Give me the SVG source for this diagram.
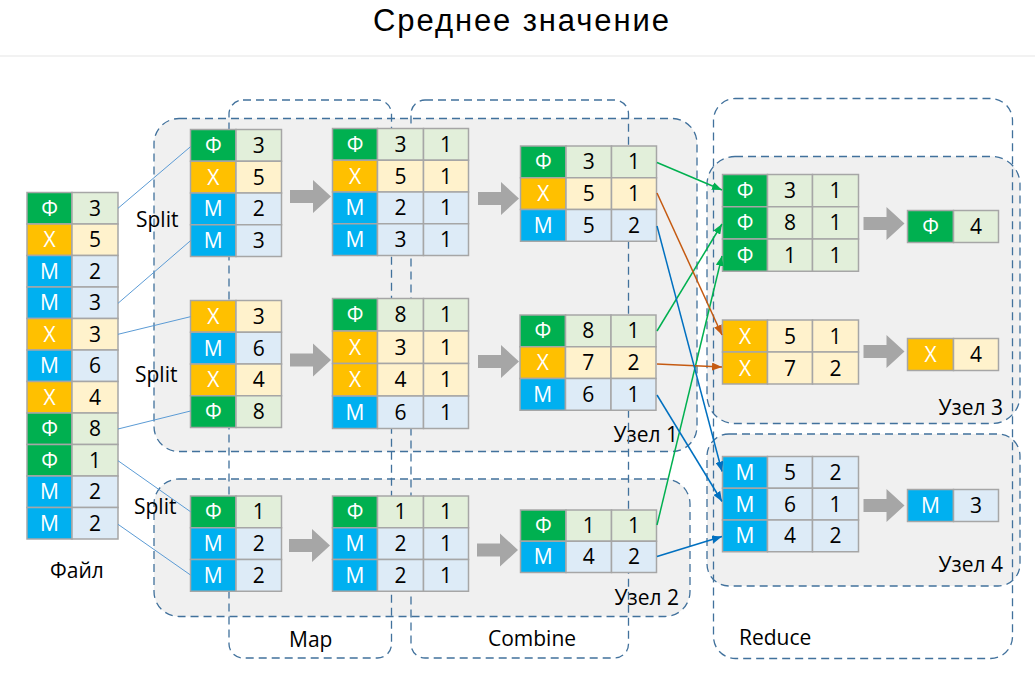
<svg xmlns="http://www.w3.org/2000/svg" xmlns:xlink="http://www.w3.org/1999/xlink" width="1035" height="685" viewBox="0 0 1035 685">
<style>
.c{stroke:#A6A6A6;stroke-width:1.5}
.g{fill:#00B050}.gl{fill:#E2EFDA}.y{fill:#FFC000}.yl{fill:#FFF2CC}.b{fill:#00B0F0}.bl{fill:#DDEBF7}
.t{font-family:"Open Sans","Liberation Sans",sans-serif;font-size:21px;text-anchor:middle}
.w{fill:#fff}.k{fill:#000}
.lbl{font-family:"Open Sans","Liberation Sans",sans-serif;font-size:21px;fill:#000}
.node{fill:#F0F0F0;stroke:#41719C;stroke-width:1.3;stroke-dasharray:8 5}
.col{fill:none;stroke:#41719C;stroke-width:1.3;stroke-dasharray:8 5}
.split{stroke:#5B9BD5;stroke-width:1;fill:none}
.cg{stroke:#00B050;stroke-width:1.5;fill:none}
.co{stroke:#C55A11;stroke-width:1.5;fill:none}
.cb{stroke:#0070C0;stroke-width:1.5;fill:none}
.arr{fill:#A6A6A6}
</style>
<defs>
<path id="ga" class="arr" d="M0,-6.5 H23 V-16.5 L41,0 L23,16.5 V6.5 H0 Z"/>
<marker id="mg" markerUnits="userSpaceOnUse" markerWidth="10" markerHeight="8" refX="10" refY="4" orient="auto"><path d="M0,0 L10,4 L0,8 z" fill="#00B050"/></marker>
<marker id="mo" markerUnits="userSpaceOnUse" markerWidth="10" markerHeight="8" refX="10" refY="4" orient="auto"><path d="M0,0 L10,4 L0,8 z" fill="#C55A11"/></marker>
<marker id="mb" markerUnits="userSpaceOnUse" markerWidth="10" markerHeight="8" refX="10" refY="4" orient="auto"><path d="M0,0 L10,4 L0,8 z" fill="#0070C0"/></marker>
</defs>
<rect width="1035" height="685" fill="#fff"/>
<text x="521" y="31" font-family="Liberation Sans, Arial, sans-serif" font-size="31" text-anchor="middle" textLength="296" lengthAdjust="spacing" fill="#000">Среднее значение</text>
<line x1="0" y1="56" x2="1035" y2="56" stroke="#F2F2F2" stroke-width="2"/>

<g id="node1"><rect class="node" x="154" y="118.5" width="543" height="333" rx="25"/><text class="lbl" x="678" y="442" text-anchor="end">Узел 1</text></g>
<g id="node2"><rect class="node" x="154" y="479" width="536" height="137.5" rx="25"/><text class="lbl" x="679" y="605" text-anchor="end">Узел 2</text></g>
<g id="map-stage"><rect class="col" x="229" y="100" width="162.5" height="558" rx="14"/><text class="lbl" x="289" y="647">Map</text></g>
<g id="combine-stage"><rect class="col" x="411" y="100" width="217.5" height="558" rx="14"/><text class="lbl" x="532" y="646" text-anchor="middle">Combine</text></g>
<g id="node3"><rect class="node" x="707" y="156.5" width="313" height="267" rx="28"/><text class="lbl" x="1003" y="415" text-anchor="end">Узел 3</text></g>
<g id="node4"><rect class="node" x="707" y="434" width="313" height="152" rx="22"/><text class="lbl" x="1003" y="572" text-anchor="end">Узел 4</text></g>
<g id="reduce-stage"><rect class="col" x="713.5" y="98.5" width="299" height="560" rx="22"/><text class="lbl" x="739" y="645">Reduce</text></g>

<g id="labels">
<text class="lbl" x="136" y="227">Split</text>
<text class="lbl" x="135" y="382">Split</text>
<text class="lbl" x="134" y="514">Split</text>
<text class="lbl" x="77" y="578" text-anchor="middle">Файл</text>
</g>

<g id="file" transform="translate(27,192.5)">
<rect class="c g" x="0" y="0" width="45" height="31.5"/><rect class="c gl" x="45" y="0" width="46" height="31.5"/>
<rect class="c y" x="0" y="31.5" width="45" height="31.5"/><rect class="c yl" x="45" y="31.5" width="46" height="31.5"/>
<rect class="c b" x="0" y="63" width="45" height="31.5"/><rect class="c bl" x="45" y="63" width="46" height="31.5"/>
<rect class="c b" x="0" y="94.5" width="45" height="31.5"/><rect class="c bl" x="45" y="94.5" width="46" height="31.5"/>
<rect class="c y" x="0" y="126" width="45" height="31.5"/><rect class="c yl" x="45" y="126" width="46" height="31.5"/>
<rect class="c b" x="0" y="157.5" width="45" height="31.5"/><rect class="c bl" x="45" y="157.5" width="46" height="31.5"/>
<rect class="c y" x="0" y="189" width="45" height="31.5"/><rect class="c yl" x="45" y="189" width="46" height="31.5"/>
<rect class="c g" x="0" y="220.5" width="45" height="31.5"/><rect class="c gl" x="45" y="220.5" width="46" height="31.5"/>
<rect class="c g" x="0" y="252" width="45" height="31.5"/><rect class="c gl" x="45" y="252" width="46" height="31.5"/>
<rect class="c b" x="0" y="283.5" width="45" height="31.5"/><rect class="c bl" x="45" y="283.5" width="46" height="31.5"/>
<rect class="c b" x="0" y="315" width="45" height="31.5"/><rect class="c bl" x="45" y="315" width="46" height="31.5"/>
<g class="t w"><text x="22.5" y="23.25">Ф</text><text x="22.5" y="54.75">Х</text><text x="22.5" y="86.25">М</text><text x="22.5" y="117.75">М</text><text x="22.5" y="149.25">Х</text><text x="22.5" y="180.75">М</text><text x="22.5" y="212.25">Х</text><text x="22.5" y="243.75">Ф</text><text x="22.5" y="275.25">Ф</text><text x="22.5" y="306.75">М</text><text x="22.5" y="338.25">М</text></g>
<g class="t k"><text x="68" y="23.25">3</text><text x="68" y="54.75">5</text><text x="68" y="86.25">2</text><text x="68" y="117.75">3</text><text x="68" y="149.25">3</text><text x="68" y="180.75">6</text><text x="68" y="212.25">4</text><text x="68" y="243.75">8</text><text x="68" y="275.25">1</text><text x="68" y="306.75">2</text><text x="68" y="338.25">2</text></g>
</g>

<g id="split1" transform="translate(190.5,129.5)">
<rect class="c g" x="0" y="0" width="45.5" height="31.75"/><rect class="c gl" x="45.5" y="0" width="45.5" height="31.75"/>
<rect class="c y" x="0" y="31.75" width="45.5" height="31.75"/><rect class="c yl" x="45.5" y="31.75" width="45.5" height="31.75"/>
<rect class="c b" x="0" y="63.5" width="45.5" height="31.75"/><rect class="c bl" x="45.5" y="63.5" width="45.5" height="31.75"/>
<rect class="c b" x="0" y="95.25" width="45.5" height="31.75"/><rect class="c bl" x="45.5" y="95.25" width="45.5" height="31.75"/>
<g class="t w"><text x="22.75" y="23.4">Ф</text><text x="22.75" y="55.1">Х</text><text x="22.75" y="86.9">М</text><text x="22.75" y="118.6">М</text></g>
<g class="t k"><text x="68.25" y="23.4">3</text><text x="68.25" y="55.1">5</text><text x="68.25" y="86.9">2</text><text x="68.25" y="118.6">3</text></g>
</g>
<g id="split2" transform="translate(190.5,300.5)">
<rect class="c y" x="0" y="0" width="45.5" height="31.75"/><rect class="c yl" x="45.5" y="0" width="45.5" height="31.75"/>
<rect class="c b" x="0" y="31.75" width="45.5" height="31.75"/><rect class="c bl" x="45.5" y="31.75" width="45.5" height="31.75"/>
<rect class="c y" x="0" y="63.5" width="45.5" height="31.75"/><rect class="c yl" x="45.5" y="63.5" width="45.5" height="31.75"/>
<rect class="c g" x="0" y="95.25" width="45.5" height="31.75"/><rect class="c gl" x="45.5" y="95.25" width="45.5" height="31.75"/>
<g class="t w"><text x="22.75" y="23.4">Х</text><text x="22.75" y="55.1">М</text><text x="22.75" y="86.9">Х</text><text x="22.75" y="118.6">Ф</text></g>
<g class="t k"><text x="68.25" y="23.4">3</text><text x="68.25" y="55.1">6</text><text x="68.25" y="86.9">4</text><text x="68.25" y="118.6">8</text></g>
</g>
<g id="split3" transform="translate(190.5,496)">
<rect class="c g" x="0" y="0" width="45.5" height="31.75"/><rect class="c gl" x="45.5" y="0" width="45.5" height="31.75"/>
<rect class="c b" x="0" y="31.75" width="45.5" height="31.75"/><rect class="c bl" x="45.5" y="31.75" width="45.5" height="31.75"/>
<rect class="c b" x="0" y="63.5" width="45.5" height="31.75"/><rect class="c bl" x="45.5" y="63.5" width="45.5" height="31.75"/>
<g class="t w"><text x="22.75" y="23.4">Ф</text><text x="22.75" y="55.1">М</text><text x="22.75" y="86.9">М</text></g>
<g class="t k"><text x="68.25" y="23.4">1</text><text x="68.25" y="55.1">2</text><text x="68.25" y="86.9">2</text></g>
</g>

<g id="map1" transform="translate(332.5,128.5)">
<rect class="c g" x="0" y="0" width="45" height="31.75"/><rect class="c gl" x="45" y="0" width="46" height="31.75"/><rect class="c gl" x="91" y="0" width="45" height="31.75"/>
<rect class="c y" x="0" y="31.75" width="45" height="31.75"/><rect class="c yl" x="45" y="31.75" width="46" height="31.75"/><rect class="c yl" x="91" y="31.75" width="45" height="31.75"/>
<rect class="c b" x="0" y="63.5" width="45" height="31.75"/><rect class="c bl" x="45" y="63.5" width="46" height="31.75"/><rect class="c bl" x="91" y="63.5" width="45" height="31.75"/>
<rect class="c b" x="0" y="95.25" width="45" height="31.75"/><rect class="c bl" x="45" y="95.25" width="46" height="31.75"/><rect class="c bl" x="91" y="95.25" width="45" height="31.75"/>
<g class="t w"><text x="22.5" y="23.4">Ф</text><text x="22.5" y="55.1">Х</text><text x="22.5" y="86.9">М</text><text x="22.5" y="118.6">М</text></g>
<g class="t k"><text x="68" y="23.4">3</text><text x="68" y="55.1">5</text><text x="68" y="86.9">2</text><text x="68" y="118.6">3</text>
<text x="113.5" y="23.4">1</text><text x="113.5" y="55.1">1</text><text x="113.5" y="86.9">1</text><text x="113.5" y="118.6">1</text></g>
</g>
<g id="map2" transform="translate(332.5,298.5)">
<rect class="c g" x="0" y="0" width="45" height="32.5"/><rect class="c gl" x="45" y="0" width="46" height="32.5"/><rect class="c gl" x="91" y="0" width="45" height="32.5"/>
<rect class="c y" x="0" y="32.5" width="45" height="32.5"/><rect class="c yl" x="45" y="32.5" width="46" height="32.5"/><rect class="c yl" x="91" y="32.5" width="45" height="32.5"/>
<rect class="c y" x="0" y="65" width="45" height="32.5"/><rect class="c yl" x="45" y="65" width="46" height="32.5"/><rect class="c yl" x="91" y="65" width="45" height="32.5"/>
<rect class="c b" x="0" y="97.5" width="45" height="32.5"/><rect class="c bl" x="45" y="97.5" width="46" height="32.5"/><rect class="c bl" x="91" y="97.5" width="45" height="32.5"/>
<g class="t w"><text x="22.5" y="23.75">Ф</text><text x="22.5" y="56.25">Х</text><text x="22.5" y="88.75">Х</text><text x="22.5" y="121.25">М</text></g>
<g class="t k"><text x="68" y="23.75">8</text><text x="68" y="56.25">3</text><text x="68" y="88.75">4</text><text x="68" y="121.25">6</text>
<text x="113.5" y="23.75">1</text><text x="113.5" y="56.25">1</text><text x="113.5" y="88.75">1</text><text x="113.5" y="121.25">1</text></g>
</g>
<g id="map3" transform="translate(332.5,496)">
<rect class="c g" x="0" y="0" width="45" height="31.75"/><rect class="c gl" x="45" y="0" width="46" height="31.75"/><rect class="c gl" x="91" y="0" width="45" height="31.75"/>
<rect class="c b" x="0" y="31.75" width="45" height="31.75"/><rect class="c bl" x="45" y="31.75" width="46" height="31.75"/><rect class="c bl" x="91" y="31.75" width="45" height="31.75"/>
<rect class="c b" x="0" y="63.5" width="45" height="31.75"/><rect class="c bl" x="45" y="63.5" width="46" height="31.75"/><rect class="c bl" x="91" y="63.5" width="45" height="31.75"/>
<g class="t w"><text x="22.5" y="23.4">Ф</text><text x="22.5" y="55.1">М</text><text x="22.5" y="86.9">М</text></g>
<g class="t k"><text x="68" y="23.4">1</text><text x="68" y="55.1">2</text><text x="68" y="86.9">2</text>
<text x="113.5" y="23.4">1</text><text x="113.5" y="55.1">1</text><text x="113.5" y="86.9">1</text></g>
</g>

<g id="combine1" transform="translate(520.5,146)">
<rect class="c g" x="0" y="0" width="45.5" height="31.75"/><rect class="c gl" x="45.5" y="0" width="45.5" height="31.75"/><rect class="c gl" x="91" y="0" width="45" height="31.75"/>
<rect class="c y" x="0" y="31.75" width="45.5" height="31.75"/><rect class="c yl" x="45.5" y="31.75" width="45.5" height="31.75"/><rect class="c yl" x="91" y="31.75" width="45" height="31.75"/>
<rect class="c b" x="0" y="63.5" width="45.5" height="31.75"/><rect class="c bl" x="45.5" y="63.5" width="45.5" height="31.75"/><rect class="c bl" x="91" y="63.5" width="45" height="31.75"/>
<g class="t w"><text x="22.75" y="23.4">Ф</text><text x="22.75" y="55.1">Х</text><text x="22.75" y="86.9">М</text></g>
<g class="t k"><text x="68.25" y="23.4">3</text><text x="68.25" y="55.1">5</text><text x="68.25" y="86.9">5</text>
<text x="113.5" y="23.4">1</text><text x="113.5" y="55.1">1</text><text x="113.5" y="86.9">2</text></g>
</g>
<g id="combine2" transform="translate(520,315)">
<rect class="c g" x="0" y="0" width="45.5" height="31.75"/><rect class="c gl" x="45.5" y="0" width="45.5" height="31.75"/><rect class="c gl" x="91" y="0" width="45" height="31.75"/>
<rect class="c y" x="0" y="31.75" width="45.5" height="31.75"/><rect class="c yl" x="45.5" y="31.75" width="45.5" height="31.75"/><rect class="c yl" x="91" y="31.75" width="45" height="31.75"/>
<rect class="c b" x="0" y="63.5" width="45.5" height="31.75"/><rect class="c bl" x="45.5" y="63.5" width="45.5" height="31.75"/><rect class="c bl" x="91" y="63.5" width="45" height="31.75"/>
<g class="t w"><text x="22.75" y="23.4">Ф</text><text x="22.75" y="55.1">Х</text><text x="22.75" y="86.9">М</text></g>
<g class="t k"><text x="68.25" y="23.4">8</text><text x="68.25" y="55.1">7</text><text x="68.25" y="86.9">6</text>
<text x="113.5" y="23.4">1</text><text x="113.5" y="55.1">2</text><text x="113.5" y="86.9">1</text></g>
</g>
<g id="combine3" transform="translate(520.5,510)">
<rect class="c g" x="0" y="0" width="45.5" height="31.25"/><rect class="c gl" x="45.5" y="0" width="45.5" height="31.25"/><rect class="c gl" x="91" y="0" width="45" height="31.25"/>
<rect class="c b" x="0" y="31.25" width="45.5" height="31.25"/><rect class="c bl" x="45.5" y="31.25" width="45.5" height="31.25"/><rect class="c bl" x="91" y="31.25" width="45" height="31.25"/>
<g class="t w"><text x="22.75" y="23.1">Ф</text><text x="22.75" y="54.4">М</text></g>
<g class="t k"><text x="68.25" y="23.1">1</text><text x="68.25" y="54.4">4</text>
<text x="113.5" y="23.1">1</text><text x="113.5" y="54.4">2</text></g>
</g>

<g id="reduceF" transform="translate(722.5,174.5)">
<rect class="c g" x="0" y="0" width="45" height="32.25"/><rect class="c gl" x="45" y="0" width="45" height="32.25"/><rect class="c gl" x="90" y="0" width="46" height="32.25"/>
<rect class="c g" x="0" y="32.25" width="45" height="32.25"/><rect class="c gl" x="45" y="32.25" width="45" height="32.25"/><rect class="c gl" x="90" y="32.25" width="46" height="32.25"/>
<rect class="c g" x="0" y="64.5" width="45" height="32.25"/><rect class="c gl" x="45" y="64.5" width="45" height="32.25"/><rect class="c gl" x="90" y="64.5" width="46" height="32.25"/>
<g class="t w"><text x="22.5" y="23.6">Ф</text><text x="22.5" y="55.9">Ф</text><text x="22.5" y="88.1">Ф</text></g>
<g class="t k"><text x="67.5" y="23.6">3</text><text x="67.5" y="55.9">8</text><text x="67.5" y="88.1">1</text>
<text x="113" y="23.6">1</text><text x="113" y="55.9">1</text><text x="113" y="88.1">1</text></g>
</g>
<g id="reduceX" transform="translate(722.5,320)">
<rect class="c y" x="0" y="0" width="45" height="32"/><rect class="c yl" x="45" y="0" width="45" height="32"/><rect class="c yl" x="90" y="0" width="46" height="32"/>
<rect class="c y" x="0" y="32" width="45" height="32"/><rect class="c yl" x="45" y="32" width="45" height="32"/><rect class="c yl" x="90" y="32" width="46" height="32"/>
<g class="t w"><text x="22.5" y="23.5">Х</text><text x="22.5" y="55.5">Х</text></g>
<g class="t k"><text x="67.5" y="23.5">5</text><text x="67.5" y="55.5">7</text>
<text x="113" y="23.5">1</text><text x="113" y="55.5">2</text></g>
</g>
<g id="reduceM" transform="translate(722.5,456.5)">
<rect class="c b" x="0" y="0" width="45" height="31.75"/><rect class="c bl" x="45" y="0" width="45" height="31.75"/><rect class="c bl" x="90" y="0" width="46" height="31.75"/>
<rect class="c b" x="0" y="31.75" width="45" height="31.75"/><rect class="c bl" x="45" y="31.75" width="45" height="31.75"/><rect class="c bl" x="90" y="31.75" width="46" height="31.75"/>
<rect class="c b" x="0" y="63.5" width="45" height="31.75"/><rect class="c bl" x="45" y="63.5" width="45" height="31.75"/><rect class="c bl" x="90" y="63.5" width="46" height="31.75"/>
<g class="t w"><text x="22.5" y="23.4">М</text><text x="22.5" y="55.1">М</text><text x="22.5" y="86.9">М</text></g>
<g class="t k"><text x="67.5" y="23.4">5</text><text x="67.5" y="55.1">6</text><text x="67.5" y="86.9">4</text>
<text x="113" y="23.4">2</text><text x="113" y="55.1">1</text><text x="113" y="86.9">2</text></g>
</g>

<g id="resultF" transform="translate(907.5,210.5)">
<rect class="c g" x="0" y="0" width="46" height="32"/><rect class="c gl" x="46" y="0" width="45" height="32"/>
<text class="t w" x="23" y="23.5">Ф</text><text class="t k" x="68.5" y="23.5">4</text>
</g>
<g id="resultX" transform="translate(907.5,338.5)">
<rect class="c y" x="0" y="0" width="46" height="32"/><rect class="c yl" x="46" y="0" width="45" height="32"/>
<text class="t w" x="23" y="23.5">Х</text><text class="t k" x="68.5" y="23.5">4</text>
</g>
<g id="resultM" transform="translate(907.5,489.5)">
<rect class="c b" x="0" y="0" width="46" height="32"/><rect class="c bl" x="46" y="0" width="45" height="32"/>
<text class="t w" x="23" y="23.5">М</text><text class="t k" x="68.5" y="23.5">3</text>
</g>

<g id="connectors">
<line class="split" x1="118" y1="208.3" x2="190.5" y2="146.7"/>
<line class="split" x1="118" y1="303.3" x2="190.5" y2="240.7"/>
<line class="split" x1="118" y1="334.3" x2="190.5" y2="316.7"/>
<line class="split" x1="118" y1="429" x2="190.5" y2="411"/>
<line class="split" x1="118" y1="460.7" x2="190.5" y2="511.7"/>
<line class="split" x1="118" y1="524.3" x2="190.5" y2="575"/>
<use xlink:href="#ga" href="#ga" x="290" y="196.5"/>
<use xlink:href="#ga" href="#ga" x="478" y="198.5"/>
<use xlink:href="#ga" href="#ga" x="290" y="360"/>
<use xlink:href="#ga" href="#ga" x="478" y="361.5"/>
<use xlink:href="#ga" href="#ga" x="289" y="545.5"/>
<use xlink:href="#ga" href="#ga" x="477" y="550"/>
<use xlink:href="#ga" href="#ga" x="863.5" y="223.5"/>
<use xlink:href="#ga" href="#ga" x="863.5" y="351.5"/>
<use xlink:href="#ga" href="#ga" x="863.5" y="505.5"/>
<line class="cg" x1="657" y1="162.5" x2="722" y2="190" marker-end="url(#mg)"/>
<line class="cg" x1="657" y1="331" x2="722" y2="224" marker-end="url(#mg)"/>
<line class="cg" x1="657" y1="525" x2="722" y2="256" marker-end="url(#mg)"/>
<line class="co" x1="657" y1="193" x2="722" y2="335" marker-end="url(#mo)"/>
<line class="co" x1="657" y1="364" x2="722" y2="367" marker-end="url(#mo)"/>
<line class="cb" x1="657" y1="226" x2="722" y2="471.5" marker-end="url(#mb)"/>
<line class="cb" x1="657" y1="395" x2="722" y2="501.5" marker-end="url(#mb)"/>
<line class="cb" x1="657" y1="556.5" x2="722" y2="536.5" marker-end="url(#mb)"/>
</g>
</svg>
